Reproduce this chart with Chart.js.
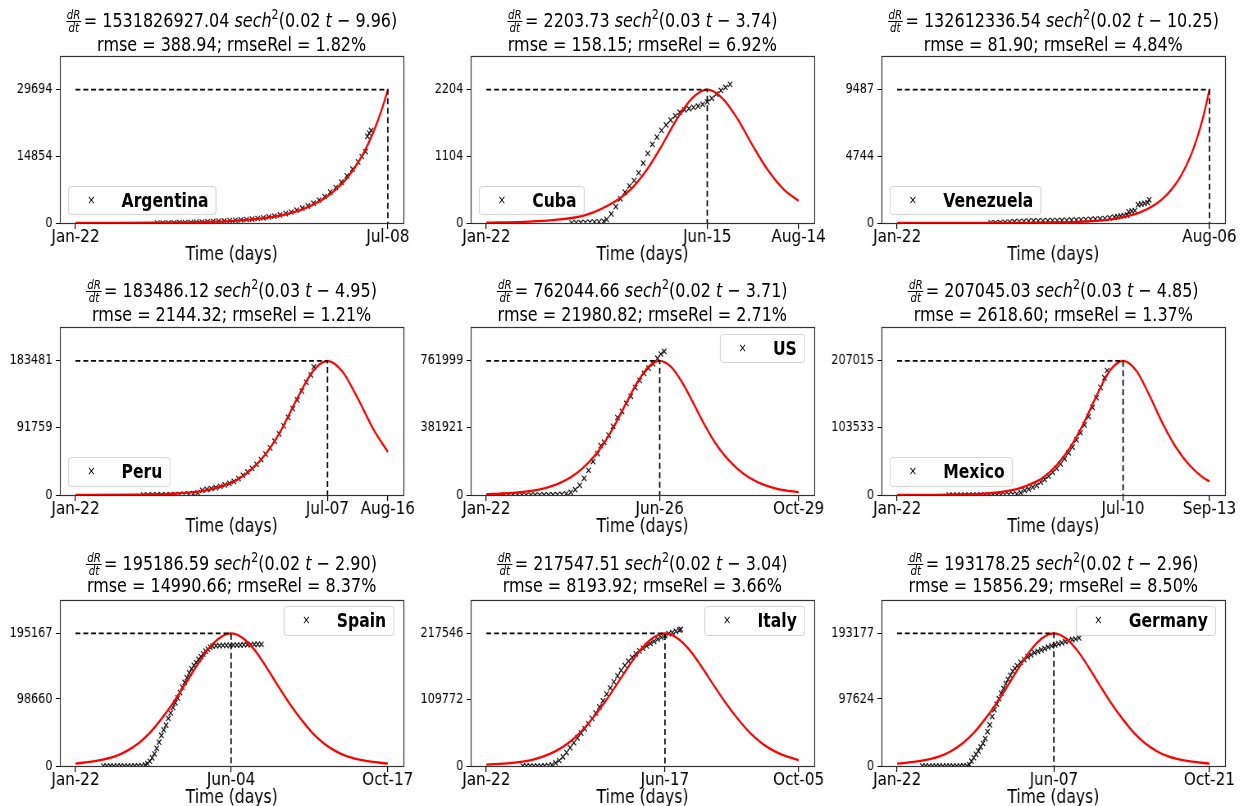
<!DOCTYPE html>
<html>
<head>
<meta charset="utf-8">
<script src="https://cdn.jsdelivr.net/npm/chart.js@4.4.0/dist/chart.umd.min.js"></script>
<style>
  html, body { margin: 0; padding: 0; background: #fff; overflow: hidden; }
  /* the reference is squeezed horizontally, so the whole page is drawn wider and scaled back */
  #page { position: absolute; left: 0; top: 0; width: 1516px; height: 806px;
          transform: scaleX(0.82); transform-origin: 0 0;
          font-family: "DejaVu Sans", sans-serif; color: #000; }
  .title { position: absolute; width: 600px; text-align: center; font-size: 19.5px;
           line-height: 24px; white-space: nowrap; }
  .frac { display: inline-block; vertical-align: middle; font-size: 12.5px; line-height: 12px;
          text-align: center; font-style: italic; margin-right: 3px; }
  .frac span { display: block; padding: 0 1px; }
  .frac .num { border-bottom: 1px solid #000; }
  .sup { font-size: 13.5px; position: relative; top: -8px; }
  .wrap { position: absolute; }
  .legend { position: absolute; height: 29.5px; box-sizing: border-box; border: 1px solid #d0d0d0;
            border-radius: 4px; background: rgba(255,255,255,0.8); line-height: 27.5px;
            padding: 0 9px 0 64px; font-size: 19px; font-weight: bold; white-space: nowrap; }
  .legend .mk { position: absolute; left: 20px; width: 14px; text-align: center;
                font-size: 12px; font-weight: normal; }
</style>
</head>
<body>
<div id="page"></div>
<script>
// ---- data (day 0 = Jan-22) ----
const countries = ['Argentina', 'Cuba', 'Venezuela', 'Peru', 'US', 'Mexico', 'Spain', 'Italy', 'Germany'];

const xTickDays = [[0, 168], [0, 145, 205], [0, 197], [0, 167, 207], [0, 156, 281],
                   [0, 170, 235], [0, 134, 269], [0, 147, 257], [0, 137, 273]];
const xTickLabels = [['Jan-22', 'Jul-08'], ['Jan-22', 'Jun-15', 'Aug-14'], ['Jan-22', 'Aug-06'],
                     ['Jan-22', 'Jul-07', 'Aug-16'], ['Jan-22', 'Jun-26', 'Oct-29'], ['Jan-22', 'Jul-10', 'Sep-13'],
                     ['Jan-22', 'Jun-04', 'Oct-17'], ['Jan-22', 'Jun-17', 'Oct-05'], ['Jan-22', 'Jun-07', 'Oct-21']];
const yTickValues = [[0, 14854, 29694], [0, 1104, 2204], [0, 4744, 9487], [0, 91759, 183481], [0, 381921, 761999],
                     [0, 103533, 207015], [0, 98660, 195167], [0, 109772, 217546], [0, 97624, 193177]];
const peakDays = [168, 145, 197, 167, 156, 170, 134, 147, 137];

const amplitudes = ['1531826927.04', '2203.73', '132612336.54', '183486.12', '762044.66',
                    '207045.03', '195186.59', '217547.51', '193178.25'];
const rates = ['0.02', '0.03', '0.02', '0.03', '0.02', '0.03', '0.02', '0.02', '0.02'];
const shifts = ['9.96', '3.74', '10.25', '4.95', '3.71', '4.85', '2.90', '3.04', '2.96'];
const rmseValues = ['388.94', '158.15', '81.90', '2144.32', '21980.82', '2618.60', '14990.66', '8193.92', '15856.29'];
const rmseRelValues = ['1.82', '6.92', '4.84', '1.21', '2.71', '1.37', '8.37', '3.66', '8.50'];

// fitted curves [day, value]
const argentinaFit = [[0,7],[20,20],[40,52],[60,140],[75,300],[85,490],[95,800],[105,1300],[115,2150],[125,3550],
  [135,5800],[142,8200],[146,10000],[150,12200],[155,15600],[160,20000],[163,23200],[166,26900],[168,29694]];
const cubaFit = [[0,5],[25,20],[45,50],[65,130],[85,365],[95,560],[105,866],[115,1270],[125,1715],[135,2060],
  [145,2204],[155,2060],[165,1715],[175,1270],[185,866],[195,560],[205,365]];
const venezuelaFit = [[0,1],[50,2],[80,12],[100,36],[113,74],[125,148],[137,296],[149,593],[155,840],[161,1186],
  [167,1680],[173,2372],[179,3350],[185,4744],[189,5980],[193,7530],[197,9487]];
const peruFit = [[0,40],[37,360],[67,2070],[87,6700],[107,20500],[117,35600],[127,58700],[137,91500],[147,132300],
  [157,168400],[167,183481],[177,168400],[187,132300],[197,91500],[207,58700]];
const usFit = [[0,4300],[16,8500],[31,15900],[46,29700],[56,44800],[66,67500],[76,100200],[86,148100],[96,211800],
  [106,295100],[116,402900],[126,523900],[136,641600],[146,729200],[156,762000],[166,729200],[176,641600],
  [186,523900],[196,402900],[206,295100],[216,211800],[226,148100],[236,100200],[246,67500],[256,44800],
  [266,29700],[281,15900]];
const mexicoFit = [[0,60],[40,580],[70,3000],[90,9000],[105,21000],[110,27200],[120,45900],[130,73000],[140,109400],
  [150,152900],[160,191700],[170,207015],[180,191700],[190,152900],[200,109400],[210,73000],[220,45900],
  [230,27200],[235,21000]];
const spainFit = [[0,3500],[19,7800],[34,14100],[44,21900],[54,33200],[64,48800],[74,69300],[84,92700],[94,119100],
  [104,146400],[114,171200],[124,188500],[134,195167],[144,188500],[154,171200],[164,146400],[174,119100],
  [184,92700],[194,69300],[204,48800],[214,33200],[224,21900],[234,14100],[249,7800],[269,3500]];
const italyFit = [[0,2200],[20,4800],[37,9800],[47,15700],[57,24400],[67,37000],[77,54400],[87,77200],[97,103300],
  [107,132700],[117,163200],[127,190800],[137,210100],[147,217546],[157,210100],[167,190800],[177,163200],
  [187,132700],[197,103300],[207,77200],[217,54400],[227,37000],[237,24400],[247,15700],[257,9800]];
const germanyFit = [[0,3400],[22,7700],[37,13900],[47,21600],[57,32800],[67,48300],[77,68600],[87,91800],[97,117800],
  [107,144900],[117,169400],[127,186600],[137,193177],[147,186600],[157,169400],[167,144900],[177,117800],
  [187,91800],[197,68600],[207,48300],[217,32800],[227,21600],[237,13900],[252,7700],[273,3500]];

// observed recoveries [day, value]
const argentinaObs = [[44,0],[47,2],[50,10],[53,30],[56,60],[59,90],[62,130],[65,170],[68,220],[71,280],[74,340],
  [77,400],[80,460],[83,530],[86,600],[89,680],[92,780],[95,880],[98,1000],[101,1150],[104,1350],[107,1550],
  [110,1800],[113,2100],[116,2450],[119,2850],[122,3300],[125,3800],[128,4400],[131,5100],[134,5900],[137,6900],
  [140,7900],[143,9100],[146,10500],[149,12000],[152,13600],[154,14800],[156,15900],[157,19300],[158,20000],[159,20600]];
const cubaObs = [[56,0],[59,3],[62,5],[65,8],[68,12],[71,16],[74,20],[77,28],[79,60],[82,150],[85,270],
  [88,400],[91,510],[94,610],[97,700],[100,830],[103,990],[106,1150],[109,1300],[112,1420],[115,1530],[118,1620],
  [121,1700],[124,1770],[127,1830],[130,1870],[133,1890],[136,1910],[139,1930],[142,1960],[145,2000],[148,2060],
  [151,2130],[154,2190],[157,2240],[160,2290]];
const venezuelaObs = [[59,2],[62,10],[65,30],[68,50],[71,70],[74,90],[77,105],[80,120],[83,135],[86,145],[89,155],
  [92,160],[95,165],[98,170],[101,175],[104,180],[107,190],[110,200],[113,210],[116,225],[119,240],[122,255],
  [125,270],[128,290],[131,320],[134,360],[137,410],[139,450],[141,500],[143,520],[145,560],[146,800],[148,850],
  [150,880],[152,1300],[154,1350],[156,1400],[158,1450],[159,1650]];
const peruObs = [[45,0],[48,0],[51,20],[54,60],[57,120],[60,200],[63,300],[66,450],[69,650],[72,900],[75,1300],
  [78,1900],[81,3000],[84,6500],[87,7800],[90,8800],[93,10000],[96,11800],[99,13800],[102,16000],[105,18500],
  [108,22500],[111,27000],[114,31500],[117,36500],[120,42000],[123,48500],[126,56000],[129,64500],[132,73500],
  [135,83500],[138,94500],[141,106000],[144,118000],[147,130000],[150,142000],[153,154000],[156,164000],[158,175000]];
const usObs = [[16,0],[20,0],[24,0],[28,0],[32,0],[36,0],[40,0],[44,0],[48,0],[52,100],[56,200],[60,500],[64,1500],
  [68,3000],[72,7000],[76,15000],[80,30000],[84,55000],[88,95000],[92,140000],[96,190000],[100,235000],[103,280000],
  [106,300000],[110,340000],[114,390000],[118,440000],[122,475000],[126,520000],[130,560000],[134,610000],
  [138,650000],[142,690000],[146,720000],[150,745000],[154,775000],[157,800000],[160,815000]];
const mexicoObs = [[39,0],[42,0],[45,0],[48,0],[51,0],[54,0],[57,0],[60,0],[63,0],[66,0],[69,0],[72,50],[75,100],
  [78,200],[81,400],[84,700],[87,1000],[90,1500],[93,3500],[96,7000],[99,9000],[102,12000],[105,15000],[108,20000],
  [111,24000],[114,29000],[117,35000],[120,41000],[123,48000],[126,56000],[129,65000],[132,74000],[135,85000],
  [138,96000],[141,108000],[144,121000],[147,135000],[150,150000],[153,166000],[156,181000],[158,192000]];
const spainObs = [[24,0],[27,0],[30,0],[33,0],[36,0],[39,0],[42,0],[45,0],[48,0],[51,30],[54,200],[57,500],[60,1500],
  [62,3500],[64,7000],[66,12000],[68,18000],[70,26000],[72,35000],[74,45000],[76,53000],[78,60000],[80,70000],
  [82,78000],[84,86000],[86,93000],[88,100000],[90,108000],[92,116000],[94,123000],[96,130000],[98,137000],
  [100,143000],[102,148000],[104,152000],[106,157000],[108,161000],[110,165000],[112,169000],[114,172000],
  [116,175000],[118,176500],[121,177000],[124,177000],[127,177500],[130,177500],[133,177500],[136,178000],
  [139,178000],[142,178000],[145,178500],[148,178500],[151,178500],[154,179000],[157,179000],[160,179000]];
const italyObs = [[30,0],[33,0],[36,0],[39,0],[42,0],[45,0],[48,50],[51,500],[54,2000],[57,5000],[60,9000],[63,15000],
  [66,22000],[69,30000],[72,38000],[75,46000],[78,54000],[81,61000],[84,69000],[87,78000],[90,87000],[93,97000],
  [96,107000],[99,118000],[102,128000],[105,138000],[108,148000],[111,157000],[114,165000],[117,172000],
  [120,178000],[123,184000],[126,189000],[129,193000],[132,197000],[135,201000],[138,204500],[141,208000],
  [144,211000],[147,214000],[150,217000],[153,219000],[156,221000],[159,223000],[160,224000]];
const germanyObs = [[22,0],[25,0],[28,0],[31,0],[34,0],[37,0],[40,0],[43,0],[46,0],[49,0],[52,0],[55,20],[58,30],
  [61,50],[63,2000],[65,7000],[67,12000],[69,17000],[71,22000],[73,28000],[75,33000],[77,40000],[79,50000],
  [81,60000],[83,72000],[85,82000],[87,90000],[89,98000],[91,106000],[93,113000],[95,120000],[97,126000],
  [99,132000],[101,138000],[103,142000],[105,146000],[108,151000],[111,155000],[114,159000],[117,162000],
  [120,165000],[123,167000],[126,169000],[129,171000],[132,173000],[135,175000],[138,176500],[141,178000],
  [144,179500],[147,181000],[150,182500],[153,184000],[156,185000],[159,186500]];

const fits = [argentinaFit, cubaFit, venezuelaFit, peruFit, usFit, mexicoFit, spainFit, italyFit, germanyFit];
const observed = [argentinaObs, cubaObs, venezuelaObs, peruObs, usObs, mexicoObs, spainObs, italyObs, germanyObs];

// ---- layout (reference pixels) ----
const K = 0.82;
const colLeft = [60, 470.7, 881.7], colRight = [403.3, 814, 1225];
const rowTop = [54, 325, 597.7], rowBottom = [223.3, 495, 766];
const titleY = [[20.7, 45], [290.7, 315], [564.3, 586.3]];
const legendAtTop = [false, false, false, false, true, false, true, true, true];

const FONT = '"DejaVu Sans", sans-serif';
const page = document.getElementById('page');

const framePlugin = {
  id: 'frame',
  afterDraw(chart) {
    const { ctx, chartArea: a } = chart;
    ctx.save();
    ctx.strokeStyle = '#333';
    ctx.lineWidth = 1.2;
    ctx.strokeRect(Math.round(a.left) + 0.5, Math.round(a.top) + 0.5,
                   Math.round(a.right - a.left), Math.round(a.bottom - a.top));
    ctx.restore();
  }
};

countries.forEach((name, i) => {
  const col = i % 3, row = Math.floor(i / 3);
  const boxL = colLeft[col] / K, boxR = colRight[col] / K;
  const boxT = rowTop[row], boxB = rowBottom[row];
  const endDay = xTickDays[i][xTickDays[i].length - 1];
  const peak = yTickValues[i][2];

  // titles
  const cx = (boxL + boxR) / 2;
  const t1 = document.createElement('div');
  t1.className = 'title';
  t1.style.left = (cx - 300) + 'px';
  t1.style.top = (titleY[row][0] - 12) + 'px';
  t1.innerHTML = '<span class="frac"><span class="num">dR</span><span>dt</span></span>= ' + amplitudes[i] +
    ' <i>sech</i><span class="sup">2</span>(' + rates[i] + ' <i>t</i> \u2212 ' + shifts[i] + ')';
  page.appendChild(t1);
  const t2 = document.createElement('div');
  t2.className = 'title';
  t2.style.left = (cx - 300) + 'px';
  t2.style.top = (titleY[row][1] - 12) + 'px';
  t2.textContent = 'rmse = ' + rmseValues[i] + '; rmseRel = ' + rmseRelValues[i] + '%';
  page.appendChild(t2);

  // chart
  const W = Math.round(boxR - boxL) + 120, H = Math.round(boxB - boxT) + 53;
  const wrap = document.createElement('div');
  wrap.className = 'wrap';
  wrap.style.left = (boxL - 75) + 'px';
  wrap.style.top = (boxT - 10) + 'px';
  const canvas = document.createElement('canvas');
  canvas.width = W; canvas.height = H;
  canvas.style.width = W + 'px'; canvas.style.height = H + 'px';
  wrap.appendChild(canvas);
  page.appendChild(wrap);

  const peakLine = [{ x: 0, y: peak }, { x: peakDays[i], y: peak }, { x: peakDays[i], y: 0 }];

  new Chart(canvas, {
    type: 'line',
    data: {
      datasets: [
        { label: 'peak', data: peakLine, borderColor: '#000', borderWidth: 1.7, borderDash: [6, 3.5],
          pointRadius: 0, order: 0 },
        { label: 'fit', data: fits[i].map(p => ({ x: p[0], y: p[1] })), borderColor: '#ff0000',
          borderWidth: 2.3, pointRadius: 0, cubicInterpolationMode: 'monotone', order: 1 },
        { label: name, data: observed[i].map(p => ({ x: p[0], y: p[1] })), showLine: false,
          pointStyle: 'crossRot', pointRadius: 3.8, pointBorderWidth: 1.2,
          pointBorderColor: '#111', pointBackgroundColor: '#111', order: 2 }
      ]
    },
    options: {
      responsive: false,
      animation: false,
      devicePixelRatio: 1,
      layout: { padding: { left: 0, right: 45, top: 10, bottom: 0 } },
      plugins: { legend: { display: false }, tooltip: { enabled: false } },
      scales: {
        x: {
          type: 'linear',
          min: -0.05 * endDay,
          max: 1.05 * endDay,
          afterBuildTicks: s => { s.ticks = xTickDays[i].map(v => ({ value: v })); },
          afterFit: s => { s.height = 43; },
          ticks: {
            autoSkip: false, maxRotation: 0, padding: -1, color: '#000',
            font: { family: FONT, size: 18.5, lineHeight: 1 },
            callback: (v, idx) => xTickLabels[i][idx]
          },
          grid: { drawOnChartArea: false, drawTicks: true, tickLength: 6, tickColor: '#000', lineWidth: 1.2 },
          border: { display: false },
          title: { display: true, text: 'Time (days)', color: '#000', padding: 0,
                   font: { family: FONT, size: 19 } }
        },
        y: {
          min: 0,
          max: 1.25 * peak,
          afterBuildTicks: s => { s.ticks = yTickValues[i].map(v => ({ value: v })); },
          afterFit: s => { s.width = 75; },
          ticks: { autoSkip: false, padding: 4, color: '#000', font: { family: FONT, size: 13.7 },
                   callback: v => String(v) },
          grid: { drawOnChartArea: false, drawTicks: true, tickLength: 5, tickColor: '#000' },
          border: { display: false }
        }
      }
    },
    plugins: [framePlugin]
  });

  // legend box
  const lg = document.createElement('div');
  lg.className = 'legend';
  lg.innerHTML = '<span class="mk">\u00d7</span>' + name;
  if (legendAtTop[i]) {
    lg.style.right = (1516 - (colRight[col] - 9) / K) + 'px';
    lg.style.top = (boxT + 8.5) + 'px';
  } else {
    lg.style.left = ((colLeft[col] + 8.3) / K) + 'px';
    lg.style.top = (boxB - 8.3 - 29.5) + 'px';
  }
  page.appendChild(lg);
});
</script>
</body>
</html>
